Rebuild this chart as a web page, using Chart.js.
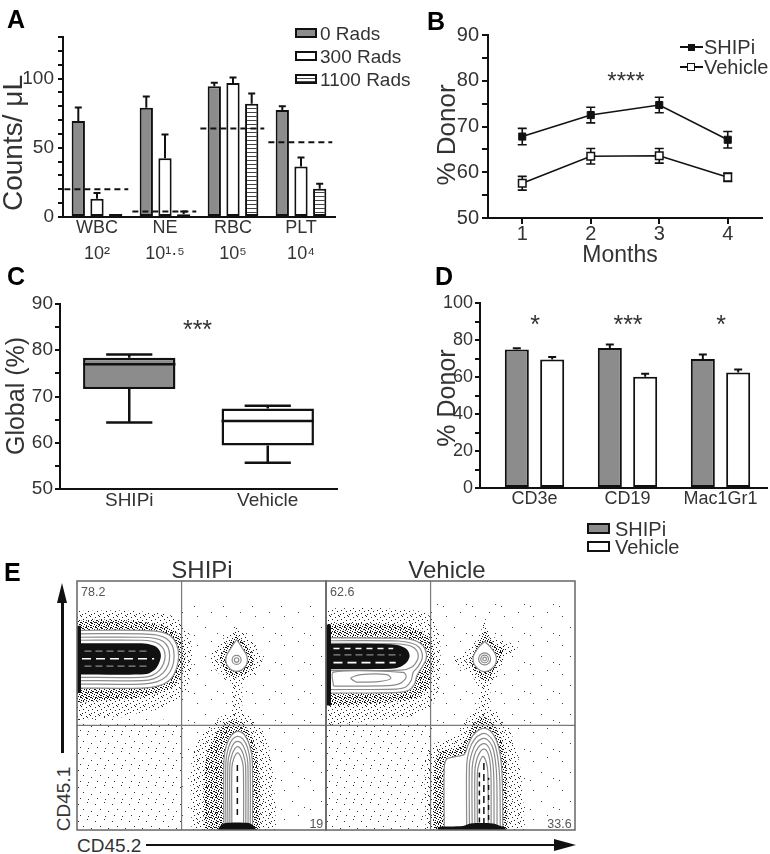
<!DOCTYPE html>
<html><head><meta charset="utf-8"><title>SHIPi figure</title>
<script src="https://cdn.jsdelivr.net/npm/chart.js"></script>
<style>
html,body{margin:0;padding:0;background:#fff;}
body{position:relative;width:770px;height:854px;overflow:hidden;font-family:'Liberation Sans',Arial,Helvetica,sans-serif;color:#333;}
canvas{position:absolute;}
.t{position:absolute;white-space:nowrap;line-height:1;}
.c{transform:translateX(-50%);}
.rt{transform:translateX(-100%);}
.r{transform:translate(-50%,-50%) rotate(-90deg);}
.L{font-weight:bold;font-size:25px;color:#000;}
.box{position:absolute;box-sizing:border-box;border:2px solid #111;}
.blk{position:absolute;background:#111;}
</style></head><body>
<canvas id="chartA" width="390" height="270" style="left:0;top:0"></canvas>
<canvas id="chartB" width="380" height="270" style="left:390px;top:0"></canvas>
<canvas id="chartC" width="390" height="240" style="left:0;top:280px"></canvas>
<canvas id="chartD" width="380" height="290" style="left:390px;top:280px"></canvas>
<canvas id="chartE1" width="251" height="251" style="left:76px;top:580px"></canvas>
<canvas id="chartE2" width="251" height="251" style="left:325px;top:580px"></canvas>

<!-- panel letters -->
<div class="t L" style="left:7px;top:7px">A</div>
<div class="t L" style="left:427px;top:9px">B</div>
<div class="t L" style="left:7px;top:264px">C</div>
<div class="t L" style="left:435px;top:264px">D</div>
<div class="t L" style="left:4px;top:560px">E</div>

<!-- axis titles -->
<div class="t r" style="left:12.5px;top:143px;font-size:28px">Counts/ μL</div>
<div class="t r" style="left:446px;top:135px;font-size:26px">% Donor</div>
<div class="t c" style="left:620px;top:242.5px;font-size:23px">Months</div>
<div class="t r" style="left:15px;top:396px;font-size:25px">Global (%)</div>
<div class="t r" style="left:446px;top:398px;font-size:25px">% Donor</div>

<!-- legend A -->
<div class="box" style="left:295px;top:28px;width:22px;height:10px;background:#8c8c8c"></div>
<div class="box" style="left:295px;top:51px;width:22px;height:10px;background:#fff"></div>
<div class="box" style="left:295px;top:74px;width:22px;height:10px;background:repeating-linear-gradient(to bottom,#fff 0px,#fff 2px,#444 2px,#444 3px)"></div>
<div class="t" id="legA0" style="left:320px;top:23.7px;font-size:19px"></div>
<div class="t" id="legA1" style="left:320px;top:46.7px;font-size:19px"></div>
<div class="t" id="legA2" style="left:320px;top:69.7px;font-size:19px"></div>

<!-- legend B -->
<div class="blk" style="left:680px;top:46.25px;width:23px;height:1.5px"></div>
<div class="blk" style="left:687.5px;top:43.5px;width:7px;height:7px"></div>
<div class="blk" style="left:680px;top:66.25px;width:23px;height:1.5px"></div>
<div style="position:absolute;box-sizing:border-box;left:687px;top:63px;width:8px;height:8px;background:#fff;border:1.5px solid #111"></div>
<div class="t" style="left:704px;top:37.2px;font-size:20px">SHIPi</div>
<div class="t" style="left:704px;top:57.2px;font-size:20px">Vehicle</div>

<!-- legend D -->
<div class="box" style="left:587px;top:522.8px;width:23px;height:11px;background:#8c8c8c"></div>
<div class="box" style="left:587px;top:541.2px;width:23px;height:11px;background:#fff"></div>
<div class="t" style="left:615px;top:518.5px;font-size:20px">SHIPi</div>
<div class="t" style="left:615px;top:536.9px;font-size:20px">Vehicle</div>

<!-- significance -->
<div class="t c" style="left:626px;top:69px;font-size:24px">****</div>
<div class="t c" style="left:197.5px;top:317.3px;font-size:25px">***</div>
<div class="t c" style="left:535px;top:312.3px;font-size:25px">*</div>
<div class="t c" style="left:628px;top:312.3px;font-size:25px">***</div>
<div class="t c" style="left:721px;top:312.3px;font-size:25px">*</div>

<!-- panel E labels -->
<div class="t c" style="left:202px;top:558px;font-size:24px">SHIPi</div>
<div class="t c" style="left:447px;top:558px;font-size:24px">Vehicle</div>
<div class="t" style="left:81px;top:586.4px;font-size:12.5px;color:#555">78.2</div>
<div class="t" style="left:330px;top:586.4px;font-size:12.5px;color:#555">62.6</div>
<div class="t rt" style="left:323.3px;top:817.9px;font-size:12.5px;color:#555">19</div>
<div class="t rt" style="left:571.7px;top:817.9px;font-size:12.5px;color:#555">33.6</div>
<div class="t r" style="left:62.5px;top:799px;font-size:19px">CD45.1</div>
<div class="t" style="left:77px;top:835.7px;font-size:19px">CD45.2</div>
<div class="blk" style="left:61px;top:600px;width:2.5px;height:153px"></div>
<div style="position:absolute;left:57.25px;top:583px;width:0;height:0;border-left:5px solid transparent;border-right:5px solid transparent;border-bottom:20px solid #111"></div>
<div class="blk" style="left:146px;top:843.75px;width:410px;height:2.5px"></div>
<div style="position:absolute;left:554px;top:839px;width:0;height:0;border-top:6px solid transparent;border-bottom:6px solid transparent;border-left:22px solid #111"></div>

<script>
// ================= Panel A: blood counts =================
const bloodCategories = [['WBC','10²'],['NE','10¹·⁵'],['RBC','10⁵'],['PLT','10⁴']];
const radsLabels = ['0 Rads','300 Rads','1100 Rads'];
const rads0 = [69.4, 78.9, 94.5, 77.3];
const rads0Err = [9.6, 8.1, 2.4, 2.6];
const rads300 = [13.2, 42.5, 96.7, 36.5];
const rads300Err = [4.1, 17.0, 4.0, 6.5];
const rads1100 = [2.2, 2.0, 81.8, 20.4];
const rads1100Err = [0, 2.0, 7.4, 3.6];
const normalThreshold = [20, 4, 64, 54];
const countsTicks = [0, 50, 100];

// ================= Panel B: donor chimerism over time =================
const months = [1, 2, 3, 4];
const shipiDonor = [67.8, 72.5, 74.7, 67.1];
const shipiDonorSem = [1.8, 1.7, 1.7, 1.8];
const vehicleDonor = [57.6, 63.5, 63.6, 58.9];
const vehicleDonorSem = [1.5, 1.7, 1.6, 0.9];
const donorTicks = [50, 60, 70, 80, 90];

// ================= Panel C: global chimerism box plot =================
const treatmentGroups = ['SHIPi', 'Vehicle'];
const globalMin = [64.4, 55.7];
const globalQ1 = [71.6, 59.4];
const globalMedian = [77.0, 64.7];
const globalQ3 = [78.4, 67.4];
const globalMax = [79.1, 68.0];
const globalTicks = [50, 60, 70, 80, 90];

// ================= Panel D: lineage chimerism =================
const lineages = ['CD3e', 'CD19', 'Mac1Gr1'];
const lineageShipi = [74.8, 75.7, 69.7];
const lineageShipiSem = [0.7, 1.9, 2.4];
const lineageVehicle = [69.4, 60.2, 62.5];
const lineageVehicleSem = [1.4, 1.6, 1.5];
const lineageTicks = [0, 20, 40, 60, 80, 100];

// ================= Panel E: flow plots (CD45.2 x, CD45.1 y; 0-100 display units) =================
const quadrantGate = [42, 42];
// SHIPi
const shipiFieldLL = [[0,0],[42,0],[42,44],[0,46]];
const shipiFieldUR = [[42,42],[100,42],[100,90],[42,90]];
const shipiFieldLR = [[42,0],[100,0],[100,42],[42,42]];
const shipiBandFringe = [[0,44],[18,46],[34,49],[43,55],[46,66],[45,79],[38,86],[22,88],[0,88]];
const shipiBandHalo = [[0,51],[12,52],[24,53],[33,55],[39,58],[42.5,63],[43.5,70],[42.5,76],[39,80],[33,82.5],[22,84],[10,84.5],[0,84]];
const shipiBandRing1 = [[0,57],[26,57],[33,58],[37.5,60.5],[40,65],[40.8,70],[40,74.5],[37.5,78],[33,79.7],[26,80.2],[0,80.2]];
const shipiBandRing2 = [[0,58.6],[26,58.6],[32,59.5],[36,61.8],[38.3,65.5],[39,70],[38.3,74],[36,76.8],[32,78.3],[26,78.8],[0,78.8]];
const shipiBandRing3 = [[0,60],[26,60],[31,60.8],[34.5,63],[36.6,66.3],[37.2,70],[36.6,73.3],[34.5,75.8],[31,77],[26,77.4],[0,77.4]];
const shipiBandRing4 = [[0,61.3],[26,61.3],[30,62],[33,64],[34.8,67],[35.4,70],[34.8,72.6],[33,74.6],[30,75.8],[26,76.2],[0,76.2]];
const shipiBandCore = [[0,62.4],[25,62.4],[29,63],[31.8,65],[33.3,68],[33.7,70],[33.3,71.8],[31.8,73.6],[29,74.6],[25,75],[0,75]];
const shipiCoreTrace1 = [[3,65.8],[29,65.8]];
const shipiCoreTrace2 = [[2,68.8],[31,68.8]];
const shipiCoreTrace3 = [[3,71.8],[29,71.8]];
const shipiEdgeStrip = [[0,55],[1.6,55],[1.6,82],[0,82]];
const shipiBlobHalo = [[64,81.5],[68,78],[72,74],[74.5,69],[72.5,64],[67.5,59.5],[64,57.5],[60,60],[56,64],[53.5,69],[56,74],[60,78]];
const shipiBlobDense = [[64,78.5],[67,75.5],[70,71.5],[70.8,67.5],[68,63],[64,61.3],[60.2,63],[57.5,67.5],[58,71.5],[61,75.5]];
const shipiBlobRing = [[64.1,76.5],[66.4,73],[68.3,69.5],[67.7,65.8],[64.1,63.7],[60.5,65.8],[59.9,69.5],[61.8,73]];
const shipiBlobCenter = [64.1, 68.3];
const shipiTrail = [[62,58.5],[66.5,58.5],[66.3,43],[61.8,43]];
const shipiLowFringe = [[46,0],[46,28],[50,38],[57,45],[64,47.5],[70,45],[76,37],[79,20],[80,0]];
const shipiLowHalo = [[51,0],[50.8,12],[51.3,25],[53,33],[56,39],[60,43],[63.5,44.5],[67,42.5],[70.5,37],[72.5,29],[73.5,18],[73.5,0]];
const shipiLowRing1 = [[59,0],[59,28],[60,34],[62,38],[64.5,39.6],[67,38.5],[69.3,34],[70.4,28],[70.5,0]];
const shipiLowRing2 = [[59.8,0],[59.8,27.5],[60.8,33],[62.4,36.4],[64.5,37.6],[66.6,36.6],[68.5,33],[69.5,27.5],[69.6,0]];
const shipiLowRing3 = [[60.6,0],[60.6,27],[61.6,31.8],[63,34.8],[64.5,35.6],[66.1,34.8],[67.6,31.8],[68.6,27],[68.7,0]];
const shipiLowRing4 = [[61.4,0],[61.4,26],[62.3,30.4],[63.5,32.8],[64.5,33.5],[65.6,32.8],[66.8,30.4],[67.7,26],[67.8,0]];
const shipiLowRing5 = [[62.2,0],[62.2,25],[63,28.8],[64.5,31],[66,28.8],[66.8,25],[66.9,0]];
const shipiLowTrace = [[64.4,6],[64.4,27]];
const shipiLowBase = [[56.5,0],[57.5,1.6],[59.5,2.8],[69,2.8],[71,1.6],[72,0]];
// Vehicle
const vehicleFieldLL = [[0,0],[42,0],[42,44],[0,44]];
const vehicleFieldUR = [[42,42],[100,42],[100,92],[42,92]];
const vehicleFieldLR = [[42,0],[100,0],[100,42],[42,42]];
const vehicleBandFringe = [[0,42],[20,44],[36,46],[44,52],[46,66],[45,80],[40,87],[25,89],[0,89]];
const vehicleBandHalo = [[0,50],[14,50.5],[28,51.5],[36,53],[41,57],[43,64],[43.5,71],[42,77],[37,80.5],[28,82.5],[14,83],[0,83]];
const vehicleBandRing1 = [[0,55],[28,55.2],[33,56],[35.5,58.5],[36.5,62],[38,64.5],[40,68],[40.3,71],[39,74],[36,76],[30,77],[0,77.2]];
const vehicleBandRing2 = [[0,56.4],[28,56.6],[32,57.4],[34.2,60],[35,63.3],[37,65.6],[38.5,68.5],[38.6,71],[37.4,73.4],[34.5,75],[29,75.9],[0,76]];
const vehicleBandRing3 = [[0,64],[30,64.2],[34.5,65.5],[36.8,68.5],[36.9,71],[35.6,73],[33,74.2],[28,74.8],[0,75]];
const vehicleBandCore = [[0,64.6],[26,64.8],[30,65.6],[32.6,67.6],[33.6,70],[32.6,72.4],[30,73.9],[26,74.6],[0,74.8]];
const vehicleLowerLoop1 = [[3,57.8],[25,58],[30,59],[32.2,61.4],[31,63.3],[3,63.4]];
const vehicleLowerLoop2 = [[12,59.4],[21,59.6],[26,60.8],[24.5,62.4],[14,62.4],[10,61]];
const vehicleCoreTrace1 = [[3,67.2],[28,67.2]];
const vehicleCoreTrace2 = [[3,70.3],[30,70.3]];
const vehicleCoreTrace3 = [[3,72.9],[27,72.9]];
const vehicleEdgeStrip = [[0,50],[2,50],[2,82.5],[0,82.5]];
const vehicleBlobHalo = [[64,85],[66.5,78],[70,76.5],[77,73.5],[71.5,68.5],[69.5,63],[66.5,58],[64,54],[61,58],[58,63],[51,67.5],[56.5,72],[61,77]];
const vehicleBlobDense = [[64,80],[67,75.5],[71.5,72.5],[69,67.5],[67,62.5],[64,59.5],[61,62.5],[57.5,67.5],[59.5,72],[61.5,75.5]];
const vehicleBlobRing = [[63.7,75.8],[66.4,73],[68.4,69.5],[67.5,65.8],[63.7,63.6],[60,65.8],[59.1,69.5],[61,73]];
const vehicleBlobCenter = [63.7, 68.7];
const vehicleTrail = [[61.5,56],[66,56],[66.5,42],[61,42]];
const vehicleLowFringe = [[40,0],[40,30],[44,35],[52,38],[57,45],[63,50],[69,47],[74,40],[78,25],[80,0]];
const vehicleLowHalo = [[43,0],[43.3,20],[44,28],[46,31.5],[50,32.5],[54,33.5],[56.5,37],[59,42.5],[62.5,45.5],[66,44],[69.5,39],[72,31],[72.8,20],[73,0]];
const vehicleLowShoulder = [[47.5,0.8],[47.5,25],[48.5,28.5],[52,29.5],[55.5,30.3],[57,34],[59,38],[62,40.5],[65,40.5],[68,37],[70,30],[70.8,20],[71,0.8]];
const vehicleLowRing1 = [[56.5,0.8],[56.5,26],[57.5,32],[59.5,36.2],[62.5,38.6],[65,38.2],[67.5,35],[69,29],[69.8,20],[70,0.8]];
const vehicleLowRing2 = [[57.6,0.8],[57.6,26],[58.6,31],[60.3,34.8],[62.7,36.7],[64.8,36.3],[66.8,33.5],[68,28],[68.6,20],[68.7,0.8]];
const vehicleLowRing3 = [[58.7,0.8],[58.7,25],[59.6,30],[61,33],[62.8,34.6],[64.6,34.2],[66,31.7],[67,27],[67.4,20],[67.5,0.8]];
const vehicleLowRing4 = [[59.8,0.8],[59.8,24],[60.6,28.5],[61.8,31.2],[63,32.4],[64.4,32],[65.4,29.8],[66,26],[66.3,20],[66.3,0.8]];
const vehicleLowRing5 = [[60.8,0.8],[60.8,23],[61.6,27],[63,29.6],[64.3,27.5],[65,23],[65.2,0.8]];
const vehicleLowTrace1 = [[61.6,3],[61.6,24]];
const vehicleLowTrace2 = [[63.4,2],[63.4,27]];
const vehicleLowTrace3 = [[65.3,4],[65.3,21]];
const vehicleLowBase = [[45,0],[45,1.2],[55,1.6],[58,2.6],[67,2.6],[70,1.6],[72,1],[72,0]];

// ================= common setup =================
Chart.defaults.font.family = "'Liberation Sans', Arial, Helvetica, sans-serif";
Chart.defaults.color = '#333';
Chart.defaults.animation = false;
Chart.defaults.responsive = false;
Chart.defaults.devicePixelRatio = 1;
Chart.defaults.events = [];
Chart.defaults.plugins.legend.display = false;
Chart.defaults.plugins.tooltip.enabled = false;

radsLabels.forEach((t, i) => { document.getElementById('legA' + i).textContent = t; });

const INK = '#111';
const GRAY_BAR = '#8c8c8c';

function makeTile(w, h, painter) {
  const c = document.createElement('canvas'); c.width = w; c.height = h;
  const g = c.getContext('2d'); painter(g);
  return g.createPattern(c, 'repeat');
}
const stripePattern = makeTile(4, 4, g => { g.fillStyle = '#fff'; g.fillRect(0,0,4,4); g.fillStyle = '#444'; g.fillRect(0,0,4,1); });
function dotTile(size, dots, color) {
  return makeTile(size, size, g => { g.fillStyle = color; dots.forEach(d => g.fillRect(d[0], d[1], 1, 1)); });
}
const texDense = dotTile(5, [[0,0],[2,1],[4,2],[1,3],[3,4],[0,2]], '#111');
const texMedium = dotTile(9, [[1,1],[5,0],[3,4],[7,3],[0,6],[6,7],[4,8]], '#222');
const texSparse = dotTile(17, [[2,3],[11,1],[7,8],[15,10],[4,14],[12,15]], '#333');
const texFaint = dotTile(29, [[5,7],[19,3],[13,18],[25,24],[2,26]], '#444');

function yAxis(min, max, step, labelled, fontSize, tickLen, pad, width) {
  return {
    min, max,
    ticks: { stepSize: step, autoSkip: false, color: '#333', font: { size: fontSize }, padding: pad,
             callback: v => (labelled.includes(v) ? v : '') },
    grid: { drawOnChartArea: false, drawTicks: true, tickLength: tickLen, color: INK, lineWidth: 2 },
    border: { display: true, color: INK, width: 2 },
    afterFit: s => { s.width = width; }
  };
}

function drawErrorBars(chart) {
  const ctx = chart.ctx, ys = chart.scales.y;
  chart.data.datasets.forEach((ds, di) => {
    if (!ds.errMean) return;
    const meta = chart.getDatasetMeta(di);
    ctx.save(); ctx.strokeStyle = INK; ctx.lineWidth = ds.errLineWidth || 2;
    meta.data.forEach((el, i) => {
      const m = ds.errMean[i], e = ds.errSize[i];
      if (!(e > 0)) return;
      const x = el.x, top = ys.getPixelForValue(m + e);
      const base = ds.errBoth ? ys.getPixelForValue(m - e) : ys.getPixelForValue(m);
      const c = ds.errCap;
      ctx.beginPath();
      ctx.moveTo(x, base); ctx.lineTo(x, top);
      ctx.moveTo(x - c, top); ctx.lineTo(x + c, top);
      if (ds.errBoth) { ctx.moveTo(x - c, base); ctx.lineTo(x + c, base); }
      ctx.stroke();
    });
    ctx.restore();
  });
}
const errorBarsOnTop = { id: 'errorBarsOnTop', afterDatasetsDraw: drawErrorBars };
const errorBarsBelow = { id: 'errorBarsBelow', beforeDatasetsDraw: drawErrorBars };

// ================= Chart A =================
const thresholdLines = {
  id: 'thresholdLines',
  afterDatasetsDraw(chart) {
    const ctx = chart.ctx, xs = chart.scales.x, ys = chart.scales.y;
    const w = (xs.right - xs.left) / bloodCategories.length;
    ctx.save(); ctx.strokeStyle = INK; ctx.lineWidth = 2; ctx.setLineDash([6, 4]);
    normalThreshold.forEach((v, i) => {
      const cx = xs.getPixelForValue(i), py = ys.getPixelForValue(v);
      ctx.beginPath(); ctx.moveTo(cx - 0.48 * w, py); ctx.lineTo(cx + 0.46 * w, py); ctx.stroke();
    });
    ctx.restore();
  }
};
const barCommon = { borderColor: INK, borderWidth: 2, borderSkipped: false, categoryPercentage: 0.825, barPercentage: 0.71, errCap: 3.5, errLineWidth: 2 };
new Chart(document.getElementById('chartA'), {
  type: 'bar',
  data: {
    labels: bloodCategories,
    datasets: [
      Object.assign({ label: radsLabels[0], data: rads0, backgroundColor: GRAY_BAR, errMean: rads0, errSize: rads0Err }, barCommon),
      Object.assign({ label: radsLabels[1], data: rads300, backgroundColor: '#fff', errMean: rads300, errSize: rads300Err }, barCommon),
      Object.assign({ label: radsLabels[2], data: rads1100, backgroundColor: stripePattern, errMean: rads1100, errSize: rads1100Err }, barCommon)
    ]
  },
  options: {
    layout: { padding: { left: 0, right: 55, top: 37, bottom: 0 } },
    scales: {
      x: { grid: { display: false, drawTicks: false }, border: { display: true, color: INK, width: 2 },
           ticks: { color: '#333', font: { size: 18, lineHeight: 1.45 }, padding: -2, autoSkip: false, maxRotation: 0 },
           afterFit: s => { s.height = 53; } },
      y: yAxis(0, 130, 10, countsTicks, 19, 5, 4, 63)
    }
  },
  plugins: [thresholdLines, errorBarsOnTop]
});

// ================= Chart B =================
new Chart(document.getElementById('chartB'), {
  type: 'line',
  data: {
    datasets: [
      { label: 'SHIPi', data: months.map((m, i) => ({ x: m, y: shipiDonor[i] })), borderColor: INK, borderWidth: 1.5, tension: 0,
        pointStyle: 'rect', pointRadius: 5, pointBackgroundColor: INK, pointBorderColor: INK, pointBorderWidth: 1,
        errMean: shipiDonor, errSize: shipiDonorSem, errBoth: true, errCap: 4.5, errLineWidth: 1.6 },
      { label: 'Vehicle', data: months.map((m, i) => ({ x: m, y: vehicleDonor[i] })), borderColor: INK, borderWidth: 1.5, tension: 0,
        pointStyle: 'rect', pointRadius: 5.3, pointBackgroundColor: '#fff', pointBorderColor: INK, pointBorderWidth: 1.5,
        errMean: vehicleDonor, errSize: vehicleDonorSem, errBoth: true, errCap: 4.5, errLineWidth: 1.6 }
    ]
  },
  options: {
    layout: { autoPadding: false, padding: { left: 0, right: 8, top: 35, bottom: 0 } },
    scales: {
      x: { type: 'linear', min: 0.5, max: 4.5,
           afterBuildTicks: s => { s.ticks = months.map(v => ({ value: v })); },
           ticks: { color: '#333', font: { size: 20 }, padding: -2, autoSkip: false },
           grid: { drawOnChartArea: false, drawTicks: true, tickLength: 6, color: INK, lineWidth: 2 },
           border: { display: true, color: INK, width: 2 },
           afterFit: s => { s.height = 52; } },
      y: yAxis(50, 90, 5, donorTicks, 20, 6, 3, 98)
    }
  },
  plugins: [errorBarsBelow]
});

// ================= Chart C =================
const boxWhisker = {
  id: 'boxWhisker',
  afterDatasetsDraw(chart) {
    const meta = chart.getDatasetMeta(0), ys = chart.scales.y, ctx = chart.ctx;
    ctx.save(); ctx.strokeStyle = INK; ctx.lineWidth = 2.5;
    meta.data.forEach((el, i) => {
      const x = el.x, w = el.width, half = w / 4;
      const pMin = ys.getPixelForValue(globalMin[i]), pQ1 = ys.getPixelForValue(globalQ1[i]);
      const pMed = ys.getPixelForValue(globalMedian[i]), pQ3 = ys.getPixelForValue(globalQ3[i]);
      const pMax = ys.getPixelForValue(globalMax[i]);
      ctx.beginPath();
      ctx.moveTo(x, pQ3); ctx.lineTo(x, pMax); ctx.moveTo(x - half, pMax); ctx.lineTo(x + half, pMax);
      ctx.moveTo(x, pQ1); ctx.lineTo(x, pMin); ctx.moveTo(x - half, pMin); ctx.lineTo(x + half, pMin);
      ctx.moveTo(x - w / 2, pMed); ctx.lineTo(x + w / 2, pMed);
      ctx.stroke();
    });
    ctx.restore();
  }
};
new Chart(document.getElementById('chartC'), {
  type: 'bar',
  data: {
    labels: treatmentGroups,
    datasets: [{ label: 'Global (%)', data: treatmentGroups.map((g, i) => [globalQ1[i], globalQ3[i]]),
      backgroundColor: [GRAY_BAR, '#fff'], borderColor: INK, borderWidth: 2.5, borderSkipped: false,
      categoryPercentage: 1, barPercentage: 0.667 }]
  },
  options: {
    layout: { padding: { left: 0, right: 53, top: 24, bottom: 0 } },
    scales: {
      x: { grid: { display: false, drawTicks: false }, border: { display: true, color: INK, width: 2 },
           ticks: { color: '#333', font: { size: 19 }, padding: 0 },
           afterFit: s => { s.height = 31; } },
      y: yAxis(50, 90, 5, globalTicks, 19, 5, 2, 60)
    }
  },
  plugins: [boxWhisker]
});

// ================= Chart D =================
const barD = { borderColor: INK, borderWidth: 2, borderSkipped: false, categoryPercentage: 0.76, barPercentage: 0.68, errCap: 4, errLineWidth: 2 };
new Chart(document.getElementById('chartD'), {
  type: 'bar',
  data: {
    datasets: [
      Object.assign({ label: 'SHIPi', data: lineageShipi.map((v, i) => ({ x: i + 1, y: v })), backgroundColor: GRAY_BAR,
        errMean: lineageShipi, errSize: lineageShipiSem }, barD),
      Object.assign({ label: 'Vehicle', data: lineageVehicle.map((v, i) => ({ x: i + 1, y: v })), backgroundColor: '#fff',
        errMean: lineageVehicle, errSize: lineageVehicleSem }, barD)
    ]
  },
  options: {
    layout: { padding: { left: 0, right: 3, top: 23, bottom: 0 } },
    scales: {
      x: { type: 'linear', min: 0.414, max: 3.5, offset: false,
           afterBuildTicks: s => { s.ticks = lineages.map((_, i) => ({ value: i + 1 })); },
           ticks: { color: '#333', font: { size: 18 }, padding: 0, autoSkip: false,
                    callback: v => lineages[Math.round(v) - 1] },
           grid: { display: false, drawTicks: false }, border: { display: true, color: INK, width: 2 },
           afterFit: s => { s.height = 82; } },
      y: yAxis(0, 100, 10, lineageTicks, 18, 5, 2, 90)
    }
  },
  plugins: [errorBarsOnTop]
});

// ================= Chart E (flow plots) =================
const flowFrame = {
  id: 'flowFrame',
  afterDatasetsDraw(chart) {
    const ctx = chart.ctx, a = chart.chartArea, xs = chart.scales.x, ys = chart.scales.y;
    const qx = xs.getPixelForValue(quadrantGate[0]), qy = ys.getPixelForValue(quadrantGate[1]);
    ctx.save();
    ctx.strokeStyle = '#7a7a7a'; ctx.lineWidth = 1.2;
    ctx.beginPath(); ctx.moveTo(qx, a.top); ctx.lineTo(qx, a.bottom); ctx.moveTo(a.left, qy); ctx.lineTo(a.right, qy); ctx.stroke();
    ctx.strokeStyle = '#666'; ctx.lineWidth = 1.5;
    ctx.strokeRect(a.left, a.top, a.right - a.left, a.bottom - a.top);
    ctx.restore();
  }
};
const CONTOUR = '#8a8a8a';
function flowChart(id, layers) {
  const N = layers.length;
  const datasets = layers.map((L, i) => {
    if (L.ring) {
      return { data: [{ x: L.ring[0], y: L.ring[1] }], showLine: false, pointRadius: L.r,
               pointBackgroundColor: 'rgba(0,0,0,0)', pointBorderColor: CONTOUR, pointBorderWidth: 1.2, order: N - i };
    }
    const pts = L.closed ? L.pts.concat([L.pts[0]]) : L.pts;
    return {
      data: pts.map(p => ({ x: p[0], y: p[1] })), showLine: true, pointRadius: 0,
      fill: L.fill ? 'shape' : false, backgroundColor: L.fill || 'rgba(0,0,0,0)',
      borderColor: L.stroke || 'rgba(0,0,0,0)', borderWidth: L.stroke ? (L.lw || 1.2) : 0,
      borderDash: L.dash || [], tension: L.tension === undefined ? 0.3 : L.tension, order: N - i
    };
  });
  new Chart(document.getElementById(id), {
    type: 'scatter',
    data: { datasets },
    options: {
      layout: { autoPadding: false, padding: 1 },
      scales: { x: { type: 'linear', min: 0, max: 100, display: false }, y: { type: 'linear', min: 0, max: 100, display: false } }
    },
    plugins: [flowFrame]
  });
}

flowChart('chartE1', [
  { pts: shipiFieldLL, fill: texSparse, tension: 0 },
  { pts: shipiFieldUR, fill: texFaint, tension: 0 },
  { pts: shipiFieldLR, fill: texFaint, tension: 0 },
  { pts: shipiBandFringe, fill: texMedium },
  { pts: shipiBandHalo, fill: texDense },
  { pts: shipiBandRing1, fill: '#fff', stroke: CONTOUR },
  { pts: shipiBandRing2, stroke: CONTOUR },
  { pts: shipiBandRing3, stroke: CONTOUR },
  { pts: shipiBandRing4, stroke: CONTOUR },
  { pts: shipiBandCore, fill: INK },
  { pts: shipiEdgeStrip, fill: INK, tension: 0 },
  { pts: shipiCoreTrace1, stroke: CONTOUR, dash: [7, 4], tension: 0 },
  { pts: shipiCoreTrace2, stroke: '#fff', lw: 1.6, dash: [9, 5], tension: 0 },
  { pts: shipiCoreTrace3, stroke: CONTOUR, dash: [7, 4], tension: 0 },
  { pts: shipiTrail, fill: texMedium, tension: 0 },
  { pts: shipiBlobHalo, fill: texMedium, closed: true },
  { pts: shipiBlobDense, fill: texDense, closed: true },
  { pts: shipiBlobRing, fill: '#fff', stroke: CONTOUR, closed: true, tension: 0.4 },
  { ring: shipiBlobCenter, r: 4.5 },
  { ring: shipiBlobCenter, r: 2.2 },
  { pts: shipiLowFringe, fill: texMedium },
  { pts: shipiLowHalo, fill: texDense },
  { pts: shipiLowRing1, fill: '#fff', stroke: CONTOUR },
  { pts: shipiLowRing2, stroke: CONTOUR },
  { pts: shipiLowRing3, stroke: CONTOUR },
  { pts: shipiLowRing4, stroke: CONTOUR },
  { pts: shipiLowRing5, stroke: CONTOUR },
  { pts: shipiLowTrace, stroke: INK, lw: 1.5, dash: [6, 5], tension: 0 },
  { pts: shipiLowBase, fill: INK }
]);

flowChart('chartE2', [
  { pts: vehicleFieldLL, fill: texSparse, tension: 0 },
  { pts: vehicleFieldUR, fill: texFaint, tension: 0 },
  { pts: vehicleFieldLR, fill: texFaint, tension: 0 },
  { pts: vehicleBandFringe, fill: texMedium },
  { pts: vehicleBandHalo, fill: texDense },
  { pts: vehicleBandRing1, fill: '#fff', stroke: CONTOUR },
  { pts: vehicleBandRing2, stroke: CONTOUR },
  { pts: vehicleLowerLoop1, stroke: CONTOUR, closed: true },
  { pts: vehicleLowerLoop2, stroke: CONTOUR, closed: true },
  { pts: vehicleBandRing3, stroke: CONTOUR },
  { pts: vehicleBandCore, fill: INK },
  { pts: vehicleEdgeStrip, fill: INK, tension: 0 },
  { pts: vehicleCoreTrace1, stroke: '#fff', lw: 1.6, dash: [9, 5], tension: 0 },
  { pts: vehicleCoreTrace2, stroke: CONTOUR, dash: [7, 4], tension: 0 },
  { pts: vehicleCoreTrace3, stroke: '#fff', lw: 1.4, dash: [6, 5], tension: 0 },
  { pts: vehicleTrail, fill: texMedium, tension: 0 },
  { pts: vehicleBlobHalo, fill: texMedium, closed: true, tension: 0.2 },
  { pts: vehicleBlobDense, fill: texDense, closed: true },
  { pts: vehicleBlobRing, fill: '#fff', stroke: CONTOUR, closed: true, tension: 0.4 },
  { ring: vehicleBlobCenter, r: 6 },
  { ring: vehicleBlobCenter, r: 3.8 },
  { ring: vehicleBlobCenter, r: 1.8 },
  { pts: vehicleLowFringe, fill: texMedium },
  { pts: vehicleLowHalo, fill: texDense },
  { pts: vehicleLowShoulder, fill: '#fff', stroke: CONTOUR },
  { pts: vehicleLowRing1, stroke: CONTOUR },
  { pts: vehicleLowRing2, stroke: CONTOUR },
  { pts: vehicleLowRing3, stroke: CONTOUR },
  { pts: vehicleLowRing4, stroke: CONTOUR },
  { pts: vehicleLowRing5, stroke: CONTOUR },
  { pts: vehicleLowTrace1, stroke: INK, lw: 1.5, dash: [5, 4], tension: 0 },
  { pts: vehicleLowTrace2, stroke: INK, lw: 1.5, dash: [7, 4], tension: 0 },
  { pts: vehicleLowTrace3, stroke: INK, lw: 1.5, dash: [5, 5], tension: 0 },
  { pts: vehicleLowBase, fill: INK }
]);
</script>
</body></html>
